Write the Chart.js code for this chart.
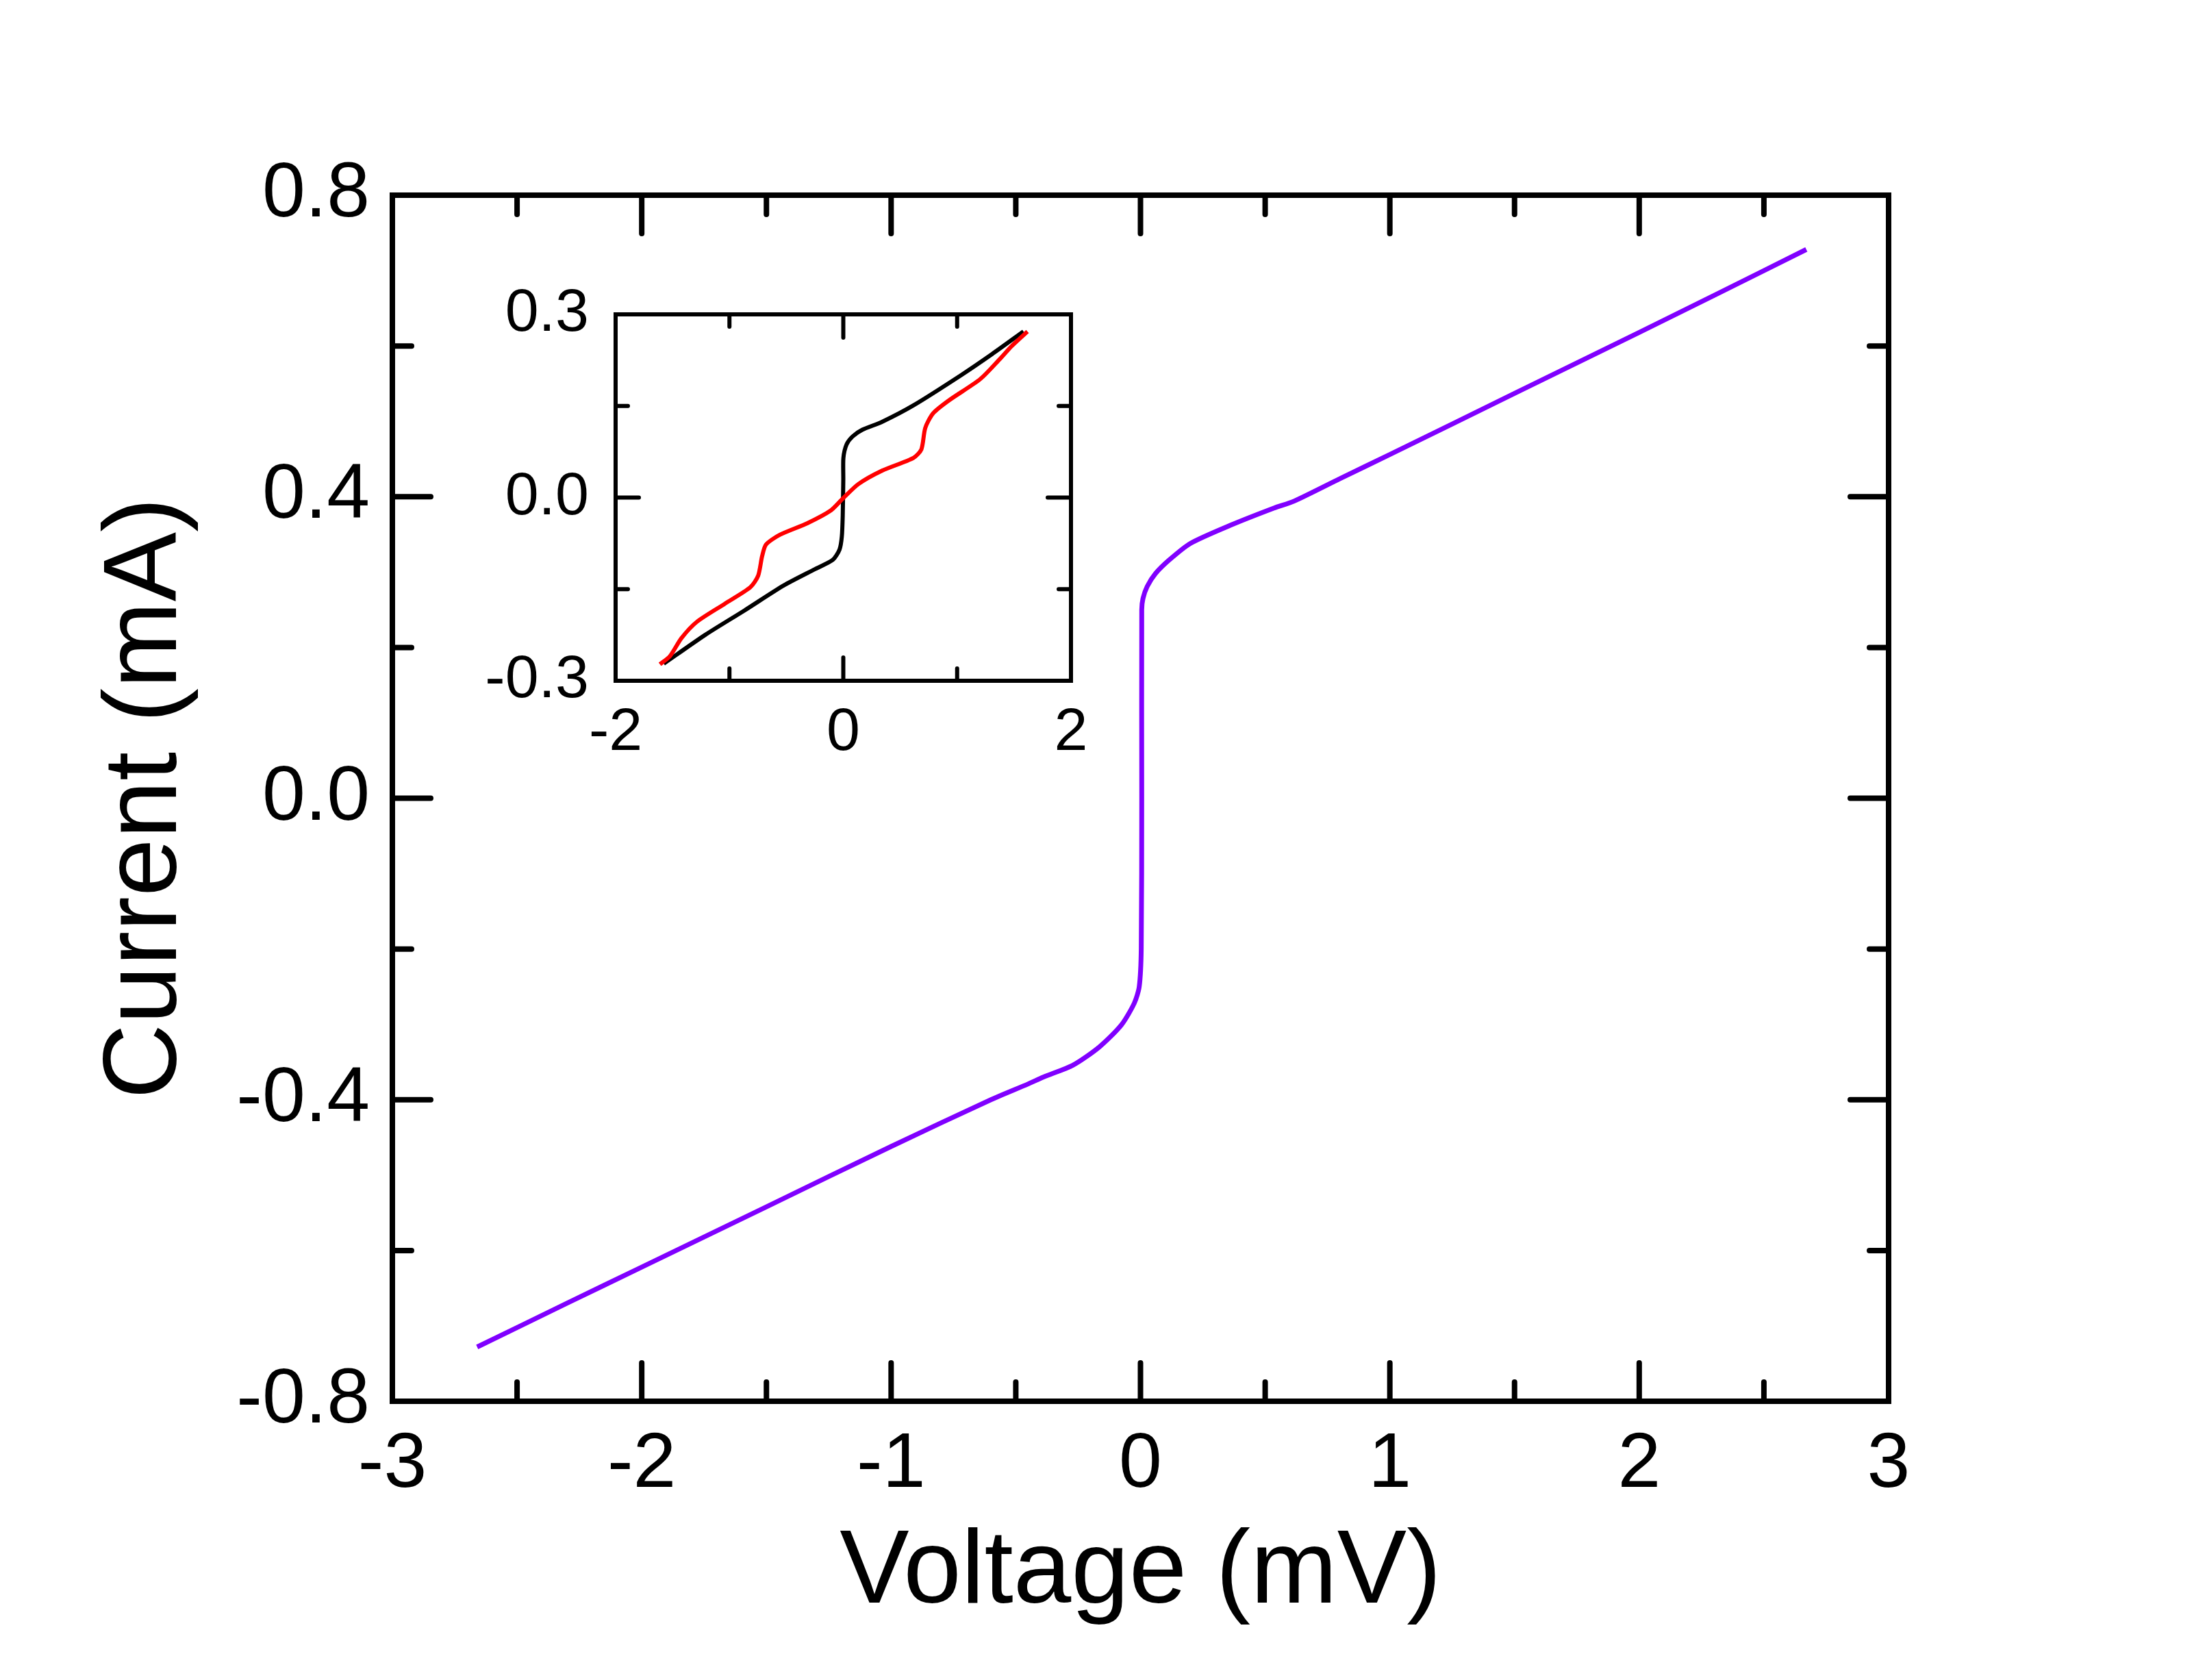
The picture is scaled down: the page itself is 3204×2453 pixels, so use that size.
<!DOCTYPE html>
<html>
<head>
<meta charset="utf-8">
<script src="https://cdn.jsdelivr.net/npm/chart.js@4.4.1/dist/chart.umd.min.js"></script>
<style>
  html, body { margin: 0; padding: 0; background: #fff; overflow: hidden; }
  #main { position: absolute; left: 0; top: 0; }
  #inset { position: absolute; left: 680px; top: 300px; }
</style>
</head>
<body>
<canvas id="main" width="3204" height="2453" style="width:3204px;height:2453px"></canvas>
<canvas id="inset" width="1020" height="880" style="width:1020px;height:880px"></canvas>
<script>
// --- main I-V curve (mV, mA) ---
const mainVoltage = [-2.66, -2.3, -2.0, -1.5, -1.0, -0.6, -0.45, -0.39, -0.27, -0.165, -0.077, -0.025, -0.005, 0.003, 0.005, 0.005, 0.01, 0.027, 0.06, 0.115, 0.2, 0.36, 0.536, 0.615, 0.8, 1.0, 1.5, 2.0, 2.3, 2.67];
const mainCurrent = [-0.728, -0.670, -0.622, -0.542, -0.462, -0.400, -0.379, -0.370, -0.354, -0.330, -0.301, -0.272, -0.250, -0.200, 0.000, 0.250, 0.265, 0.281, 0.298, 0.316, 0.338, 0.362, 0.385, 0.394, 0.424, 0.456, 0.537, 0.618, 0.667, 0.728];

// --- inset curves ---
const blackVoltage = [-1.577, -1.214, -0.869, -0.524, -0.247, -0.092, -0.033, -0.013, -0.005, 0.0, 0.001, 0.029, 0.081, 0.167, 0.340, 0.616, 1.031, 1.307, 1.583];
const blackCurrent = [-0.272, -0.225, -0.185, -0.144, -0.117, -0.102, -0.085, -0.064, -0.030, 0.030, 0.065, 0.087, 0.100, 0.111, 0.124, 0.151, 0.200, 0.235, 0.272];
const redVoltage = [-1.611, -1.524, -1.421, -1.283, -1.042, -0.817, -0.748, -0.713, -0.679, -0.558, -0.316, -0.109, -0.006, 0.132, 0.340, 0.616, 0.686, 0.720, 0.789, 0.927, 1.203, 1.376, 1.479, 1.618];
const redCurrent = [-0.273, -0.260, -0.230, -0.203, -0.174, -0.147, -0.128, -0.096, -0.077, -0.061, -0.042, -0.021, -0.002, 0.022, 0.044, 0.065, 0.079, 0.114, 0.138, 0.159, 0.194, 0.227, 0.248, 0.272];

// --- tick labels ---
const mainXTicks = [-3, -2, -1, 0, 1, 2, 3];
const mainYTicks = [-0.8, -0.4, 0.0, 0.4, 0.8];
const insetXTicks = [-2, 0, 2];
const insetYTicks = [-0.3, 0.0, 0.3];

const FONT = '"Liberation Sans", Arial, sans-serif';
const toPoints = (xs, ys) => xs.map((x, i) => ({ x, y: ys[i] }));
const midpoints = arr => arr.slice(1).map((v, i) => (v + arr[i]) / 2);

// frame + inward ticks on all four sides (major at labels, minor halfway)
const frameTicks = {
    id: 'frameTicks',
    afterDatasetsDraw(chart, args, opts) {
        const { ctx, chartArea: a, scales: { x, y } } = chart;
        ctx.save();
        ctx.strokeStyle = '#000';
        ctx.lineWidth = opts.width;
        ctx.lineCap = 'round';
        const xMajor = x.ticks.map(t => t.value);
        const yMajor = y.ticks.map(t => t.value);
        const drawX = (vals, len) => {
            vals.forEach(v => {
                if (v <= x.min || v >= x.max) return;
                const px = x.getPixelForValue(v);
                ctx.beginPath();
                ctx.moveTo(px, a.bottom); ctx.lineTo(px, a.bottom - len);
                ctx.moveTo(px, a.top); ctx.lineTo(px, a.top + len);
                ctx.stroke();
            });
        };
        const drawY = (vals, len) => {
            vals.forEach(v => {
                if (v <= y.min || v >= y.max) return;
                const py = y.getPixelForValue(v);
                ctx.beginPath();
                ctx.moveTo(a.left, py); ctx.lineTo(a.left + len, py);
                ctx.moveTo(a.right, py); ctx.lineTo(a.right - len, py);
                ctx.stroke();
            });
        };
        drawX(xMajor, opts.major); drawX(midpoints(xMajor), opts.minor);
        drawY(yMajor, opts.major); drawY(midpoints(yMajor), opts.minor);
        ctx.lineCap = 'butt';
        ctx.lineJoin = 'miter';
        ctx.strokeRect(a.left, a.top, a.right - a.left, a.bottom - a.top);
        ctx.restore();
    }
};

const fmt = digits => v => (Math.abs(v) < 1e-9 ? 0 : v).toFixed(digits);

const buildAxis = (cfg) => ({
    type: 'linear',
    min: cfg.min,
    max: cfg.max,
    afterBuildTicks: s => { s.ticks = cfg.ticks.map(v => ({ value: v })); },
    afterFit: s => { if (cfg.width) s.width = cfg.width; if (cfg.height) s.height = cfg.height; },
    grid: { display: false, drawTicks: false },
    border: { display: false },
    ticks: {
        color: '#000',
        padding: cfg.padding,
        maxRotation: 0,
        autoSkip: false,
        font: { family: FONT, size: cfg.fontSize },
        callback: fmt(cfg.digits)
    },
    title: cfg.title ? {
        display: true,
        text: cfg.title,
        color: '#000',
        font: { family: FONT, size: 152 },
        padding: cfg.titlePadding
    } : { display: false }
});

const renderMain = () => {
    new Chart(document.getElementById('main'), {
        type: 'scatter',
        data: {
            datasets: [{
                data: toPoints(mainVoltage, mainCurrent),
                showLine: true,
                borderColor: '#8000ff',
                borderWidth: 7,
                pointRadius: 0,
                tension: 0.25
            }]
        },
        options: {
            responsive: false,
            animation: false,
            devicePixelRatio: 1,
            layout: { padding: { left: 0, top: 285, right: 446, bottom: 0 } },
            plugins: {
                legend: { display: false },
                tooltip: { enabled: false },
                frameTicks: { width: 8, major: 56, minor: 28 }
            },
            scales: {
                x: buildAxis({ min: -3, max: 3, ticks: mainXTicks, height: 407, padding: 26, fontSize: 113, digits: 0,
                    title: 'Voltage (mV)', titlePadding: { top: 0, bottom: 64 } }),
                y: buildAxis({ min: -0.8, max: 0.8, ticks: mainYTicks, width: 573, padding: 33, fontSize: 113, digits: 1,
                    title: 'Current (mA)', titlePadding: { top: 124, bottom: 0 } })
            }
        },
        plugins: [frameTicks]
    });
};

const renderInset = () => {
    new Chart(document.getElementById('inset'), {
        type: 'scatter',
        data: {
            datasets: [{
                data: toPoints(redVoltage, redCurrent),
                showLine: true,
                borderColor: '#ff0000',
                borderWidth: 6,
                pointRadius: 0,
                tension: 0.25
            }, {
                data: toPoints(blackVoltage, blackCurrent),
                showLine: true,
                borderColor: '#000000',
                borderWidth: 6,
                pointRadius: 0,
                tension: 0.25
            }]
        },
        options: {
            responsive: false,
            animation: false,
            devicePixelRatio: 1,
            layout: { padding: { left: 0, top: 159, right: 136, bottom: 0 } },
            plugins: {
                legend: { display: false },
                tooltip: { enabled: false },
                frameTicks: { width: 6, major: 34, minor: 18 }
            },
            scales: {
                x: buildAxis({ min: -2, max: 2, ticks: insetXTicks, height: 186, padding: 24, fontSize: 88, digits: 0 }),
                y: buildAxis({ min: -0.3, max: 0.3, ticks: insetYTicks, width: 219, padding: 39, fontSize: 88, digits: 1 })
            }
        },
        plugins: [frameTicks]
    });
};

renderMain();
renderInset();
</script>
</body>
</html>
